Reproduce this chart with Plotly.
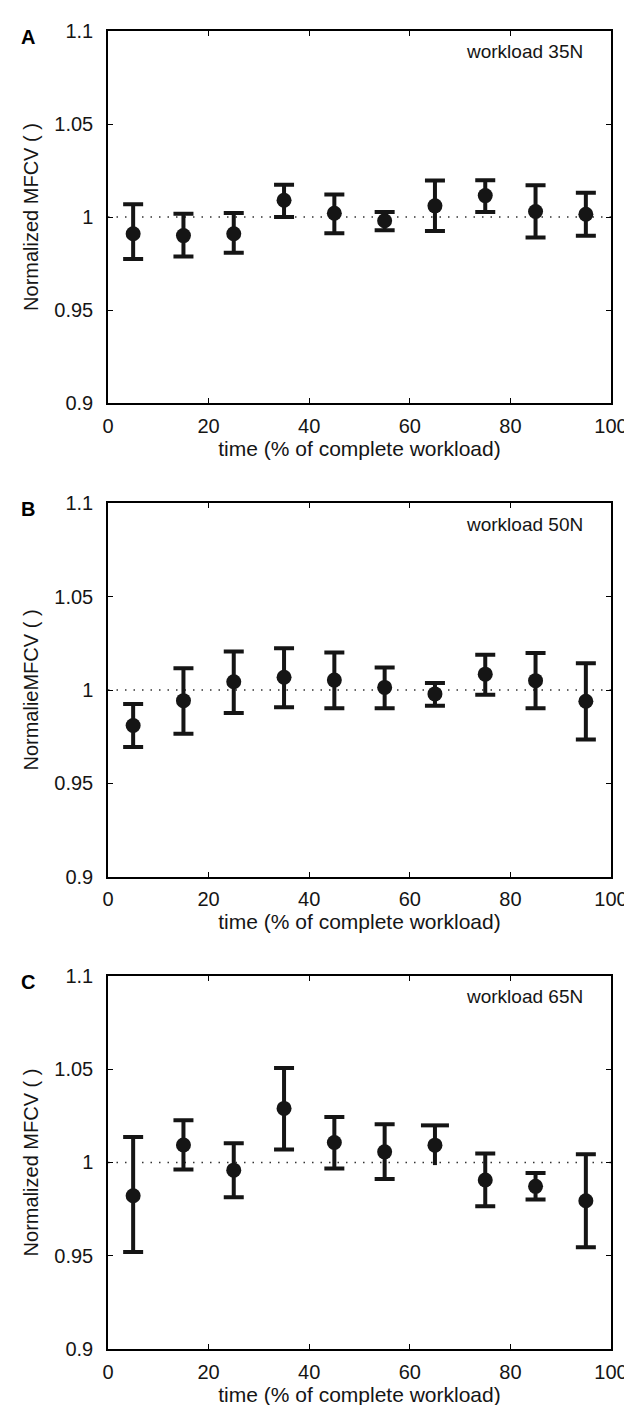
import plotly.graph_objects as go
from plotly.subplots import make_subplots

# ---- data ----
time_pct = [5, 15, 25, 35, 45, 55, 65, 75, 85, 95]

mean_35 = [0.991, 0.990, 0.991, 1.009, 1.002, 0.998, 1.006, 1.0115, 1.003, 1.0015]
upper_35 = [1.0068, 1.0018, 1.0021, 1.0174, 1.0121, 1.0027, 1.0196, 1.0198, 1.0171, 1.0130]
lower_35 = [0.9774, 0.9788, 0.9808, 1.0000, 0.9913, 0.9929, 0.9925, 1.0027, 0.9890, 0.9899]

mean_50 = [0.981, 0.9943, 1.0044, 1.0068, 1.0053, 1.0014, 0.9979, 1.0085, 1.005, 0.994]
upper_50 = [0.9925, 1.0117, 1.0206, 1.0224, 1.0201, 1.0121, 1.0037, 1.0189, 1.0198, 1.0144]
lower_50 = [0.9694, 0.9765, 0.9877, 0.9907, 0.9902, 0.9902, 0.9916, 0.9975, 0.9902, 0.9735]

mean_65 = [0.9822, 1.0094, 0.9959, 1.029, 1.0107, 1.0057, 1.0093, 0.9906, 0.9872, 0.9795]
upper_65 = [1.0137, 1.0226, 1.0103, 1.0507, 1.0244, 1.0205, 1.0199, 1.0048, 0.9943, 1.0044]
lower_65 = [0.9520, 0.9963, 0.9813, 1.0069, 0.9968, 0.9911, 0.9986, 0.9765, 0.9801, 0.9546]
# index of bar whose lower whisker is drawn without a cap (panel C)
nocap_65 = [6]

panel_letters = ["A", "B", "C"]
workload_labels = ["workload 35N", "workload 50N", "workload 65N"]
y_titles = ["Normalized MFCV ( )", "NormalieMFCV ( )", "Normalized MFCV ( )"]
x_title = "time (% of complete workload)"
x_ticks = [0, 20, 40, 60, 80, 100]
y_ticks = [0.9, 0.95, 1.0, 1.05, 1.1]
y_ticktext = ["0.9", "0.95", "1", "1.05", "1.1"]

W, H = 632, 1405
ML, MR, MT, MB = 100, 19, 19, 61
PH = H - MT - MB
FONT = "Liberation Sans, Arial, Helvetica, sans-serif"
INK = "#151515"

def yf(px):
    return (H - MB - px) / PH

domains = [(yf(393), yf(19)), (yf(869), yf(494)), (yf(1344), yf(969))]

fig = make_subplots(rows=3, cols=1)

panels = [
    (mean_35, upper_35, lower_35, []),
    (mean_50, upper_50, lower_50, []),
    (mean_65, upper_65, lower_65, nocap_65),
]

for i, (m, up, lo, nocap) in enumerate(panels):
    row = i + 1
    capped = [k for k in range(len(m)) if k not in nocap]
    # reference line at 1
    fig.add_trace(go.Scatter(x=[0, 100], y=[1, 1], mode="lines",
                             line=dict(color="#333333", width=1.5, dash="1.5px,7px"),
                             hoverinfo="skip", showlegend=False), row=row, col=1)
    # capped whiskers
    fig.add_trace(go.Scatter(
        x=[time_pct[k] for k in capped], y=[m[k] for k in capped], mode="markers",
        marker=dict(size=15, color=INK, symbol="circle"),
        error_y=dict(type="data", symmetric=False,
                     array=[up[k] - m[k] for k in capped],
                     arrayminus=[m[k] - lo[k] for k in capped],
                     color=INK, thickness=4, width=10),
        showlegend=False), row=row, col=1)
    if nocap:
        # whisker without caps + upper cap only
        fig.add_trace(go.Scatter(
            x=[time_pct[k] for k in nocap], y=[m[k] for k in nocap], mode="markers",
            marker=dict(size=15, color=INK, symbol="circle"),
            error_y=dict(type="data", symmetric=False,
                         array=[up[k] - m[k] for k in nocap],
                         arrayminus=[m[k] - lo[k] for k in nocap],
                         color=INK, thickness=4, width=0),
            showlegend=False), row=row, col=1)
        fig.add_trace(go.Scatter(
            x=[time_pct[k] for k in nocap], y=[up[k] for k in nocap], mode="markers",
            marker=dict(symbol="line-ew", size=20, line=dict(color=INK, width=4)),
            hoverinfo="skip", showlegend=False), row=row, col=1)

    xa = "xaxis" if i == 0 else f"xaxis{row}"
    ya = "yaxis" if i == 0 else f"yaxis{row}"
    fig.layout[xa].update(
        domain=[0, 1], range=[0, 100], tickvals=x_ticks, ticks="inside", ticklen=5,
        tickwidth=1, tickcolor="black", showline=True, linecolor="black", linewidth=1.5,
        mirror="ticks", showgrid=False, zeroline=False, ticklabelstandoff=4,
        tickfont=dict(family=FONT, size=20, color=INK),
        title=dict(text=x_title, font=dict(family=FONT, size=21, color=INK), standoff=4),
    )
    fig.layout[ya].update(
        domain=list(domains[i]), range=[0.9, 1.1], tickvals=y_ticks, ticktext=y_ticktext,
        ticks="inside", ticklen=5, tickwidth=1, tickcolor="black", showline=True,
        linecolor="black", linewidth=1.5, mirror="ticks", showgrid=False, zeroline=False,
        ticklabelstandoff=9,
        tickfont=dict(family=FONT, size=20, color=INK),
        title=dict(text=y_titles[i], font=dict(family=FONT, size=20, color=INK), standoff=10),
    )

    top_px = [19, 494, 969][i]
    fig.add_annotation(text=panel_letters[i], xref="paper", yref="paper",
                       x=(18 - ML) / (W - ML - MR), y=yf(top_px + 6),
                       xanchor="center", yanchor="middle", showarrow=False,
                       font=dict(family=FONT, size=20, color="black", weight="bold"))
    fig.add_annotation(text=workload_labels[i], xref="paper", yref="paper",
                       x=(586 - ML) / (W - ML - MR), y=yf(top_px + 21),
                       xanchor="right", yanchor="middle", showarrow=False,
                       font=dict(family=FONT, size=19, color=INK))

fig.update_layout(
    width=W, height=H, margin=dict(l=ML, r=MR, t=MT, b=MB),
    paper_bgcolor="white", plot_bgcolor="white", showlegend=False,
)

fig.write_html("out.html")
